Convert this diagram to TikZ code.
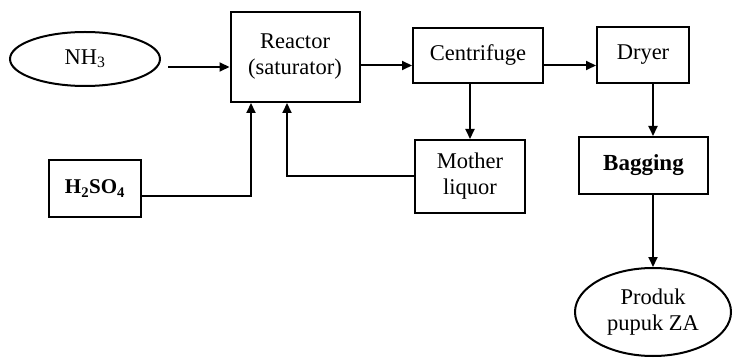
\documentclass[tikz,border=0pt]{standalone}
\usepackage{fontspec}
\setmainfont{Liberation Serif}
\usetikzlibrary{arrows.meta,shapes.geometric}

\begin{document}
\begin{tikzpicture}[
  x=1pt, y=-1pt,
  line width=2pt,
  every node/.style={
    draw,
    align=center,
    inner sep=0pt,
    font=\fontsize{22.5}{26}\selectfont
  },
  unit/.style={rectangle},
  feed/.style={ellipse},
  arrow/.style={-{Triangle[length=10pt,width=9pt]}}
]
\useasboundingbox (0,0) rectangle (736,358);
\node[feed, minimum width=150pt, minimum height=54pt] (nh3) at (85,59) {NH\textsubscript{3}};
\node[unit, minimum width=129pt, minimum height=90pt] (reactor) at (295,57) {Reactor\\(saturator)};
\node[unit, minimum width=92pt, minimum height=57pt, font=\fontsize{21}{26}\selectfont\bfseries] (h2so4) at (95,188.5) {H\textsubscript{2}SO\textsubscript{4}};
\node[unit, minimum width=130pt, minimum height=55pt] (centrifuge) at (478,55.5) {Centrifuge};
\node[unit, minimum width=92pt, minimum height=56pt] (dryer) at (643,55) {Dryer};
\node[unit, minimum width=110pt, minimum height=73pt] (mother) at (470,176.5) {Mother\\liquor};
\node[unit, minimum width=129pt, minimum height=57pt, font=\fontsize{23}{26}\selectfont\bfseries] (bagging) at (643.5,165.5) {Bagging};
\node[feed, minimum width=156pt, minimum height=88pt] (produk) at (653,312) {Produk\\pupuk ZA};
\draw[arrow] ([xshift=7pt,yshift=-8pt]nh3.east) -- ([yshift=-8pt]nh3.east -| reactor.west);
\draw[arrow] ([yshift=-10pt]centrifuge.west -| reactor.east) -- ([yshift=-10pt]centrifuge.west);
\draw[arrow] ([yshift=-10pt]centrifuge.east) -- ([yshift=-10pt]centrifuge.east -| dryer.west);
\draw[arrow] (centrifuge.south -| mother.north) -- (mother.north);
\draw[arrow] ([xshift=10pt]dryer.south) -- ([xshift=10pt]dryer.south |- bagging.north);
\draw[arrow] (bagging.south -| produk.north) -- (produk.north);
\draw[arrow] ([yshift=-8pt]h2so4.east) -| ([xshift=-44pt]reactor.south);
\draw[arrow] (mother.west) -| ([xshift=-8pt]reactor.south);
\end{tikzpicture}
\end{document}
